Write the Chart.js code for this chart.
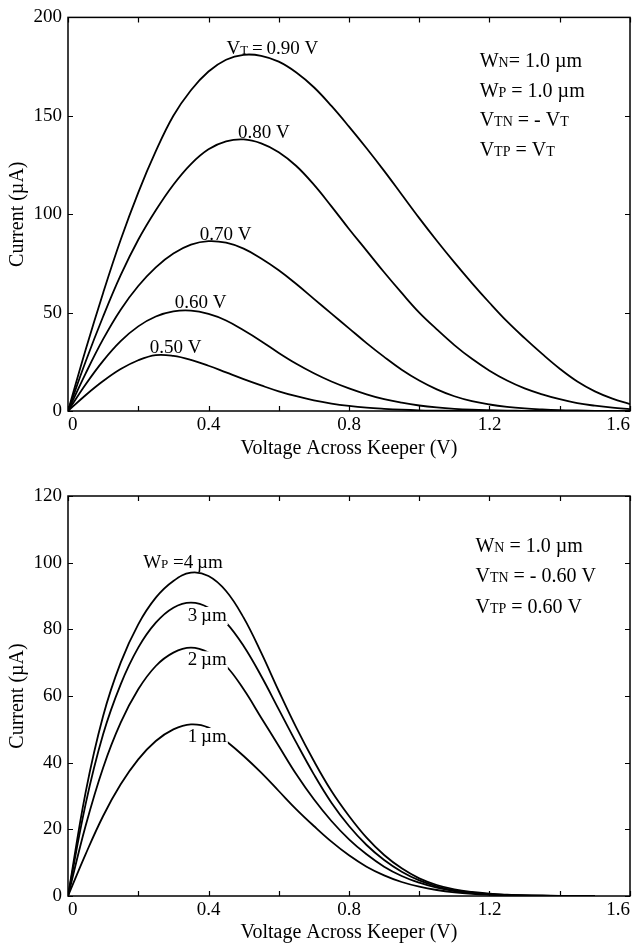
<!DOCTYPE html>
<html>
<head>
<meta charset="utf-8">
<script src="https://cdn.jsdelivr.net/npm/chart.js@4.4.1/dist/chart.umd.min.js"></script>
<style>
  html, body { margin: 0; padding: 0; background: #fff; }
  canvas { position: absolute; left: 0; display: block; }
  #chartTop { top: 0; }
  #chartBottom { top: 470px; }
</style>
</head>
<body>
<canvas id="chartTop" width="639" height="470"></canvas>
<canvas id="chartBottom" width="639" height="475"></canvas>
<script>
// ---- data ----
const voltageTop = [0, 0.05, 0.1, 0.15, 0.2, 0.25, 0.3, 0.35, 0.4, 0.45, 0.5, 0.55, 0.6, 0.65, 0.7, 0.75,
  0.8, 0.85, 0.9, 0.95, 1.0, 1.05, 1.1, 1.15, 1.2, 1.25, 1.3, 1.35, 1.4, 1.45, 1.5, 1.55, 1.6];

const currentVt090 = [0, 31, 60, 87, 111, 132, 150, 163, 172.5, 178.5, 181, 180.5, 177.5, 172, 164.5, 155,
  144.5, 133.5, 122, 110, 98, 86.5, 75.5, 65, 55, 45.5, 37, 29, 21.5, 15, 10, 6.3, 3.5];
const currentVt080 = [0, 25, 48, 69, 87, 102, 115, 125.5, 133, 137, 138, 136, 131.5, 124.5, 115, 104,
  92.5, 81.5, 70.5, 60, 50, 41.5, 33.5, 26.5, 20.5, 15.5, 11.5, 8.5, 6, 4, 2.7, 1.7, 1];
const currentVt070 = [0, 19, 36.5, 51.5, 63.5, 73, 80, 84.5, 86.3, 85.5, 82.5, 77.5, 71.5, 64.5, 57, 49.5,
  42, 34.5, 27.5, 21, 15.5, 11, 7.5, 5, 3.3, 2.1, 1.3, 0.8, 0.45, 0.25, 0.1, 0.05, 0];
const currentVt060 = [0, 13.5, 25.5, 35.5, 43, 48, 50.6, 51, 49.3, 46, 41, 35.5, 29.5, 24, 19.2, 15,
  11.5, 8.5, 6, 4.2, 2.8, 1.8, 1.1, 0.65, 0.38, 0.2, 0.1, 0.05, 0, 0, 0, 0, 0];
const currentVt050 = [0, 8, 15.2, 21.3, 25.8, 28.4, 28, 26, 23, 19.6, 16.2, 13, 10, 7.5, 5.4, 3.8,
  2.6, 1.7, 1.1, 0.65, 0.35, 0.2, 0.1, 0.05, 0, 0, 0, 0, 0, 0, 0, 0, 0];

const voltageBottom = [0, 0.05, 0.1, 0.15, 0.2, 0.25, 0.3, 0.35, 0.4, 0.45, 0.5, 0.55, 0.6, 0.65, 0.7, 0.75,
  0.8, 0.85, 0.9, 0.95, 1.0, 1.05, 1.1, 1.15, 1.2, 1.25, 1.3, 1.35, 1.4, 1.45, 1.5];

const currentWp4 = [0, 31, 54, 70, 81.5, 89.5, 94.5, 97, 96, 91.5, 83.5, 73, 61.5, 50.5, 40.5, 31.5,
  24, 17.5, 12.3, 8.3, 5.3, 3.3, 2, 1.2, 0.7, 0.4, 0.2, 0.1, 0.05, 0.02, 0];
const currentWp3 = [0, 27.5, 48.5, 63.5, 74.5, 82, 86.5, 88, 86.5, 82, 75, 66, 56, 46, 36.5, 28,
  21, 15.3, 10.8, 7.3, 4.7, 2.9, 1.7, 1, 0.55, 0.3, 0.15, 0.08, 0.04, 0.02, 0];
const currentWp2 = [0, 21, 38.5, 52, 62, 69, 73, 74.5, 73, 69, 62, 53.5, 45, 36.5, 29, 22.5,
  17, 12.5, 8.8, 6, 4, 2.5, 1.5, 0.9, 0.5, 0.28, 0.14, 0.07, 0.03, 0.01, 0];
const currentWp1 = [0, 12.5, 24, 33.5, 41, 46.5, 50, 51.5, 50.5, 46.5, 42, 37, 31.5, 26, 21, 16.3,
  12.2, 8.8, 6.2, 4.2, 2.8, 1.8, 1.1, 0.65, 0.38, 0.2, 0.1, 0.05, 0.02, 0.01, 0];

const xTickLabels = ['0', '0.4', '0.8', '1.2', '1.6'];
const yTickLabelsTop = ['0', '50', '100', '150', '200'];
const yTickLabelsBottom = ['0', '20', '40', '60', '80', '100', '120'];

const FONT = '"Liberation Serif", "Times New Roman", serif';
const THIN = '\u2009';

// ---- plugins ----
// box around the plot with inward tick marks on all four sides
const framePlugin = {
  id: 'frame',
  afterDraw(chart) {
    const { ctx, chartArea: a, scales: { x, y } } = chart;
    ctx.save();
    ctx.strokeStyle = '#000';
    ctx.lineWidth = 1.5;
    ctx.strokeRect(a.left, a.top, a.right - a.left, a.bottom - a.top);
    ctx.lineWidth = 1.2;
    ctx.beginPath();
    x.ticks.forEach(t => {
      const px = Math.round(x.getPixelForValue(t.value)) + 0.5;
      ctx.moveTo(px, a.bottom); ctx.lineTo(px, a.bottom - 5);
      ctx.moveTo(px, a.top); ctx.lineTo(px, a.top + 5);
    });
    y.ticks.forEach(t => {
      const py = Math.round(y.getPixelForValue(t.value)) + 0.5;
      ctx.moveTo(a.left, py); ctx.lineTo(a.left + 5, py);
      ctx.moveTo(a.right, py); ctx.lineTo(a.right - 5, py);
    });
    ctx.stroke();
    ctx.restore();
  }
};

// text annotations placed in data coordinates; parts = [text, isSmallCap]
// items with mask: true blank out the curve behind them
const labelPlugin = {
  id: 'curveLabels',
  afterDatasetsDraw(chart, args, opts) {
    const { ctx, scales: { x, y } } = chart;
    ctx.save();
    ctx.textBaseline = 'alphabetic';
    ctx.textAlign = 'left';
    (opts.items || []).forEach(item => {
      const big = `${item.size}px ${FONT}`;
      const small = `${Math.round(item.size * 0.68)}px ${FONT}`;
      let px = x.getPixelForValue(item.x);
      const py = y.getPixelForValue(item.y);
      const widths = item.parts.map(([t, s]) => {
        ctx.font = s ? small : big;
        return ctx.measureText(t).width;
      });
      if (item.mask) {
        const w = widths.reduce((a, b) => a + b, 0);
        ctx.fillStyle = '#fff';
        ctx.fillRect(px - 1, py - item.size * 0.72, w + 2, item.size * 0.95);
      }
      ctx.fillStyle = '#000';
      item.parts.forEach(([t, s], i) => {
        ctx.font = s ? small : big;
        ctx.fillText(t, px, py);
        px += widths[i];
      });
    });
    ctx.restore();
  }
};

function buildDatasets(xs, series) {
  return series.map(ys => ({
    data: xs.map((v, i) => ({ x: v, y: ys[i] })),
    borderColor: '#000',
    borderWidth: 1.8,
    pointRadius: 0,
    fill: false,
    tension: 0.4
  }));
}

function makeChart(id, cfg) {
  return new Chart(document.getElementById(id), {
    type: 'line',
    data: { datasets: buildDatasets(cfg.xs, cfg.series) },
    options: {
      responsive: false,
      animation: false,
      layout: { padding: cfg.padding },
      plugins: {
        legend: { display: false },
        tooltip: { enabled: false },
        curveLabels: { items: cfg.labels }
      },
      scales: {
        x: {
          type: 'linear', min: 0, max: 1.6,
          grid: { display: false, drawTicks: false },
          border: { display: false },
          ticks: {
            stepSize: 0.2, autoSkip: false, maxRotation: 0, align: 'inner', padding: 3,
            color: '#000', font: { family: FONT, size: 19 },
            callback: v => (xTickLabels.includes(String(v)) ? String(v) : '')
          },
          title: {
            display: true, text: 'Voltage Across Keeper (V)', color: '#000',
            font: { family: FONT, size: 20 }, padding: { top: 0, bottom: cfg.xTitlePad }
          },
          afterFit: s => { s.height = cfg.xAxisHeight; }
        },
        y: {
          type: 'linear', min: 0, max: cfg.yMax,
          grid: { display: false, drawTicks: false },
          border: { display: false },
          ticks: {
            stepSize: cfg.yStep, padding: 6, color: '#000', font: { family: FONT, size: 19 },
            callback: v => (cfg.yLabels.includes(String(v)) ? String(v) : '')
          },
          title: {
            display: true, text: 'Current (µA)', color: '#000',
            font: { family: FONT, size: 20 }, padding: { top: 6, bottom: 0 }
          },
          afterFit: s => { s.width = 68; }
        }
      }
    },
    plugins: [framePlugin, labelPlugin]
  });
}

makeChart('chartTop', {
  xs: voltageTop,
  series: [currentVt090, currentVt080, currentVt070, currentVt060, currentVt050],
  yMax: 200, yStep: 50, yLabels: yTickLabelsTop,
  padding: { top: 13, right: 9, left: 0, bottom: 0 },
  xAxisHeight: 59, xTitlePad: 9,
  labels: [
    { x: 0.451, y: 181.4, size: 19, parts: [['V', 0], ['T', 1], [THIN + '=' + THIN + '0.90 V', 0]] },
    { x: 0.484, y: 138.7, size: 19, parts: [['0.80 V', 0]] },
    { x: 0.375, y: 86.9, size: 19, parts: [['0.70 V', 0]] },
    { x: 0.304, y: 52.3, size: 19, parts: [['0.60 V', 0]] },
    { x: 0.233, y: 29.6, size: 19, parts: [['0.50 V', 0]] },
    { x: 1.172, y: 174.9, size: 20, parts: [['W', 0], ['N', 1], ['= 1.0 µm', 0]] },
    { x: 1.172, y: 159.8, size: 20, parts: [['W', 0], ['P', 1], [' = 1.0 µm', 0]] },
    { x: 1.172, y: 144.7, size: 20, parts: [['V', 0], ['TN', 1], [' = - V', 0], ['T', 1]] },
    { x: 1.172, y: 129.4, size: 20, parts: [['V', 0], ['TP', 1], [' = V', 0], ['T', 1]] }
  ]
});

makeChart('chartBottom', {
  xs: voltageBottom,
  series: [currentWp4, currentWp3, currentWp2, currentWp1],
  yMax: 120, yStep: 20, yLabels: yTickLabelsBottom,
  padding: { top: 26, right: 9, left: 0, bottom: 0 },
  xAxisHeight: 49, xTitlePad: 0,
  labels: [
    { x: 0.214, y: 98.5, size: 19, parts: [['W', 0], ['P', 1], [' =4' + THIN + 'µm', 0]] },
    { x: 0.341, y: 82.6, size: 19, mask: true, parts: [['3' + THIN + 'µm', 0]] },
    { x: 0.341, y: 69.3, size: 19, mask: true, parts: [['2' + THIN + 'µm', 0]] },
    { x: 0.341, y: 46.3, size: 19, mask: true, parts: [['1' + THIN + 'µm', 0]] },
    { x: 1.16, y: 103.3, size: 20, parts: [['W', 0], ['N', 1], [' = 1.0 µm', 0]] },
    { x: 1.16, y: 94.3, size: 20, parts: [['V', 0], ['TN', 1], [' = - 0.60 V', 0]] },
    { x: 1.16, y: 84.8, size: 20, parts: [['V', 0], ['TP', 1], [' = 0.60 V', 0]] }
  ]
});
</script>
</body>
</html>
